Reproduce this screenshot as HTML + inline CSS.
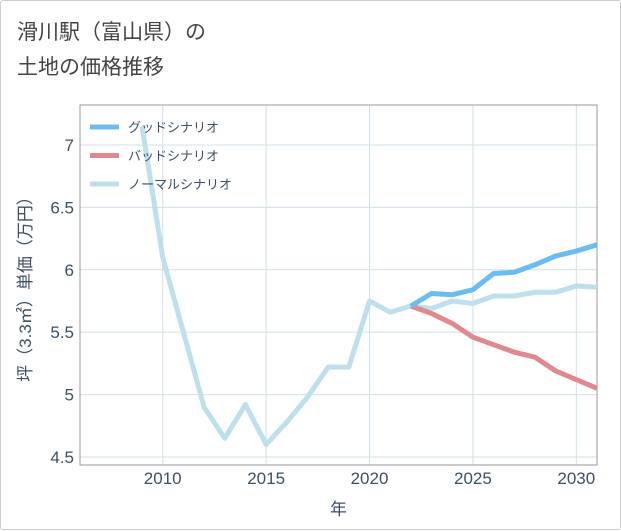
<!DOCTYPE html>
<html><head><meta charset="utf-8"><style>
body{margin:0;background:#fff;}
#wrap{position:relative;width:619px;height:528px;border:1px solid #ccc;border-radius:3px;background:#fff;font-family:"Liberation Sans","Noto Sans CJK JP",sans-serif;}
#title{position:absolute;left:16px;top:14px;font-size:21px;line-height:35px;color:#444;}
svg{position:absolute;left:0;top:0;}
</style></head><body>
<div id="wrap">
<div id="title">滑川駅（富山県）の<br>土地の価格推移</div>
<svg id="chart" width="621" height="530"></svg>
</div>
<script>
const years=[2009,2010,2011,2012,2013,2014,2015,2016,2017,2018,2019,2020,2021,2022,2023,2024,2025,2026,2027,2028,2029,2030,2031];
const normal=[7.15,6.1,5.5,4.9,4.65,4.92,4.6,4.78,4.98,5.22,5.22,5.75,5.66,5.71,5.69,5.75,5.73,5.79,5.79,5.82,5.82,5.87,5.86];
const futureYears=[2022,2023,2024,2025,2026,2027,2028,2029,2030,2031];
const good=[5.71,5.81,5.80,5.84,5.97,5.98,6.04,6.11,6.15,6.2];
const bad=[5.71,5.65,5.57,5.46,5.40,5.34,5.30,5.19,5.12,5.05];
const xTicks=[2010,2015,2020,2025,2030];
const yTicks=[4.5,5,5.5,6,6.5,7];
const yTickLabels=["4.5","5","5.5","6","6.5","7"];
const L=79,R=596,T=104,B=464,x0=2006,x1=2031,y0=4.436,y1=7.32;
const sx=v=>L+(v-x0)/(x1-x0)*(R-L);
const sy=v=>B-(v-y0)/(y1-y0)*(B-T);
const svg=document.getElementById('chart');
const NS='http://www.w3.org/2000/svg';
function mk(t,a){const e=document.createElementNS(NS,t);for(const k in a)e.setAttribute(k,a[k]);svg.appendChild(e);return e;}
xTicks.forEach(v=>{const l=mk('line',{x1:sx(v),x2:sx(v),y1:T,y2:B,stroke:'#cfe0ea','stroke-width':1});


const t=mk('text',{x:sx(v),y:B+19,'text-anchor':'middle','font-size':17,fill:'#3d4f66'});t.textContent=v;

});
yTicks.forEach((v,i)=>{const l=mk('line',{x1:L,x2:R,y1:sy(v),y2:sy(v),stroke:'#cfe0ea','stroke-width':1});


const t=mk('text',{x:L-6,y:sy(v)+6,'text-anchor':'end','font-size':17,fill:'#3d4f66'});t.textContent=yTickLabels[i];

});
const fr=mk('rect',{x:L,y:T,width:R-L,height:B-T,fill:'none',stroke:'#999','stroke-width':1});


function line(xs,ys,c,n){const p=mk('polyline',{points:xs.map((x,i)=>sx(x)+','+sy(ys[i])).join(' '),fill:'none',stroke:c,'stroke-width':5,'stroke-linejoin':'round'});

}
line(years,normal,'#bde0ec','normal-scenario-line');
line(futureYears,bad,'#e0878f','bad-scenario-line');
line(futureYears,good,'#6bbcf0','good-scenario-line');
// put normal on top? reference shows normal beneath; fine
const legend=[['グッドシナリオ','#6bbcf0'],['バッドシナリオ','#e0878f'],['ノーマルシナリオ','#bde0ec']];
legend.forEach((d,i)=>{const y=126+i*28.5;
const l=mk('line',{x1:89,x2:118,y1:y,y2:y,stroke:d[1],'stroke-width':5});


const t=mk('text',{x:127,y:y+5,'font-size':13,fill:'#3d4f66'});t.textContent=d[0];

});
const xt=mk('text',{x:(L+R)/2,y:514,'text-anchor':'middle','font-size':17,fill:'#3d4f66'});xt.textContent='年';


const yt=mk('text',{x:0,y:0,'text-anchor':'middle','font-size':17,fill:'#3d4f66',transform:'translate(30,'+((T+B)/2)+') rotate(-90)'});yt.textContent='坪（3.3㎡）単価（万円）';


</script>
</body></html>
